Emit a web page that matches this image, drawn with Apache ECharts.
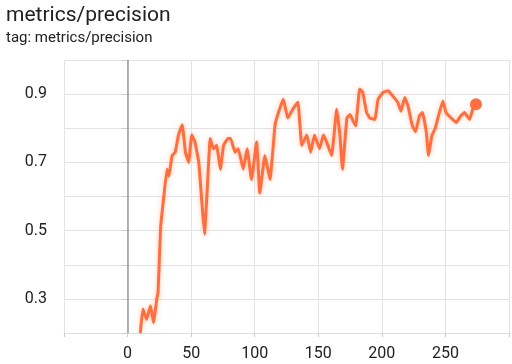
<!DOCTYPE html>
<html>
<head>
<meta charset="utf-8">
<script src="https://cdn.jsdelivr.net/npm/echarts@6/dist/echarts.min.js"></script>
<style>
  html, body { margin: 0; padding: 0; background: #fff; }
  #chart { width: 512px; height: 364px; }
</style>
</head>
<body>
<div id="chart"></div>
<script>
// step / smoothed precision
const steps = [10, 12, 15, 18, 20.5, 23, 24, 26, 28.5, 31, 32.5, 35, 37.5, 40, 43, 45.5, 48, 50.5, 53, 56,
  58.5, 60.5, 62.5, 65, 67.5, 70, 73, 75.5, 79, 81, 84.5, 87, 91, 94, 97.5, 101.5, 104, 108, 112, 116,
  119, 122.5, 126, 130, 134, 137, 141, 144, 147, 151, 154, 156.5, 160.5, 164.5, 167, 169, 172.5, 175, 177.5, 179.5,
  182.5, 185, 188, 190.5, 194.5, 197, 201, 205, 208.5, 212.5, 215, 218, 220.5, 224, 226.5, 229.5, 232, 235, 236.7, 239.3,
  242, 244.5, 248, 250.5, 254.5, 258.5, 262, 265, 269, 271.5, 274]
const precision = [0.20, 0.27, 0.24, 0.28, 0.23, 0.30, 0.32, 0.51, 0.60, 0.68, 0.66, 0.72, 0.73, 0.78, 0.81, 0.73, 0.70, 0.78, 0.76, 0.70,
  0.58, 0.49, 0.61, 0.77, 0.74, 0.75, 0.68, 0.75, 0.77, 0.77, 0.73, 0.74, 0.68, 0.74, 0.65, 0.76, 0.61, 0.72, 0.65, 0.81,
  0.85, 0.885, 0.83, 0.856, 0.876, 0.75, 0.78, 0.73, 0.78, 0.74, 0.78, 0.76, 0.72, 0.856, 0.78, 0.68, 0.83, 0.84, 0.82, 0.807,
  0.915, 0.905, 0.846, 0.83, 0.826, 0.885, 0.905, 0.91, 0.895, 0.876, 0.85, 0.89, 0.866, 0.807, 0.79, 0.836, 0.846, 0.787, 0.72, 0.778,
  0.80, 0.836, 0.88, 0.846, 0.83, 0.817, 0.836, 0.846, 0.826, 0.856, 0.87]
const yLabels = [0.3, 0.5, 0.7, 0.9]
const xLabels = [0, 50, 100, 150, 200, 250]

let chart = echarts.init(document.getElementById('chart'))
let data = steps.map((s, i) => [s, precision[i]])
let last = data[data.length - 1]

let option = {
  animation: false,
  textStyle: { fontFamily: 'Roboto' },
  title: [
    { text: 'metrics/precision', left: 1, top: 0, textStyle: { fontSize: 21, fontWeight: 'normal', color: '#212121' } },
    { text: 'tag: metrics/precision', left: 1, top: 26, textStyle: { fontSize: 15, fontWeight: 'normal', color: '#212121' } }
  ],
  grid: { left: 64, right: 2, top: 60, bottom: 31 },
  xAxis: {
    type: 'value', min: -50, max: 300, interval: 50,
    axisLine: { show: true, lineStyle: { color: '#ddd' } },
    axisTick: { show: true, length: 4, lineStyle: { color: '#ccc' } },
    splitLine: { show: true, lineStyle: { color: '#e3e3e3' } },
    axisLabel: {
      fontSize: 16, color: '#212121', margin: 13,
      formatter: v => xLabels.indexOf(v) >= 0 ? String(v) : ''
    }
  },
  yAxis: {
    type: 'value', min: 0.2, max: 1.0, interval: 0.1,
    axisLine: { show: false },
    axisTick: { show: true, length: 6, lineStyle: { color: '#ccc' } },
    splitLine: { show: true, lineStyle: { color: '#e3e3e3' } },
    axisLabel: {
      fontSize: 16, color: '#212121', margin: 17,
      formatter: v => yLabels.some(l => Math.abs(l - v) < 1e-6) ? v.toFixed(1) : ''
    }
  },
  series: [
    {
      type: 'line', data: data, smooth: 0.1, showSymbol: false,
      lineStyle: { color: '#ff6e3f', width: 3, shadowColor: 'rgba(255,140,90,0.5)', shadowBlur: 5 },
      markLine: {
        silent: true, symbol: 'none', label: { show: false },
        lineStyle: { color: '#999', width: 1.5, type: 'solid' },
        data: [{ xAxis: 0 }]
      }
    },
    {
      type: 'scatter', data: [last], symbolSize: 12,
      itemStyle: { color: '#ff6e3f', opacity: 1 }
    }
  ]
}
chart.setOption(option)
</script>
</body>
</html>
